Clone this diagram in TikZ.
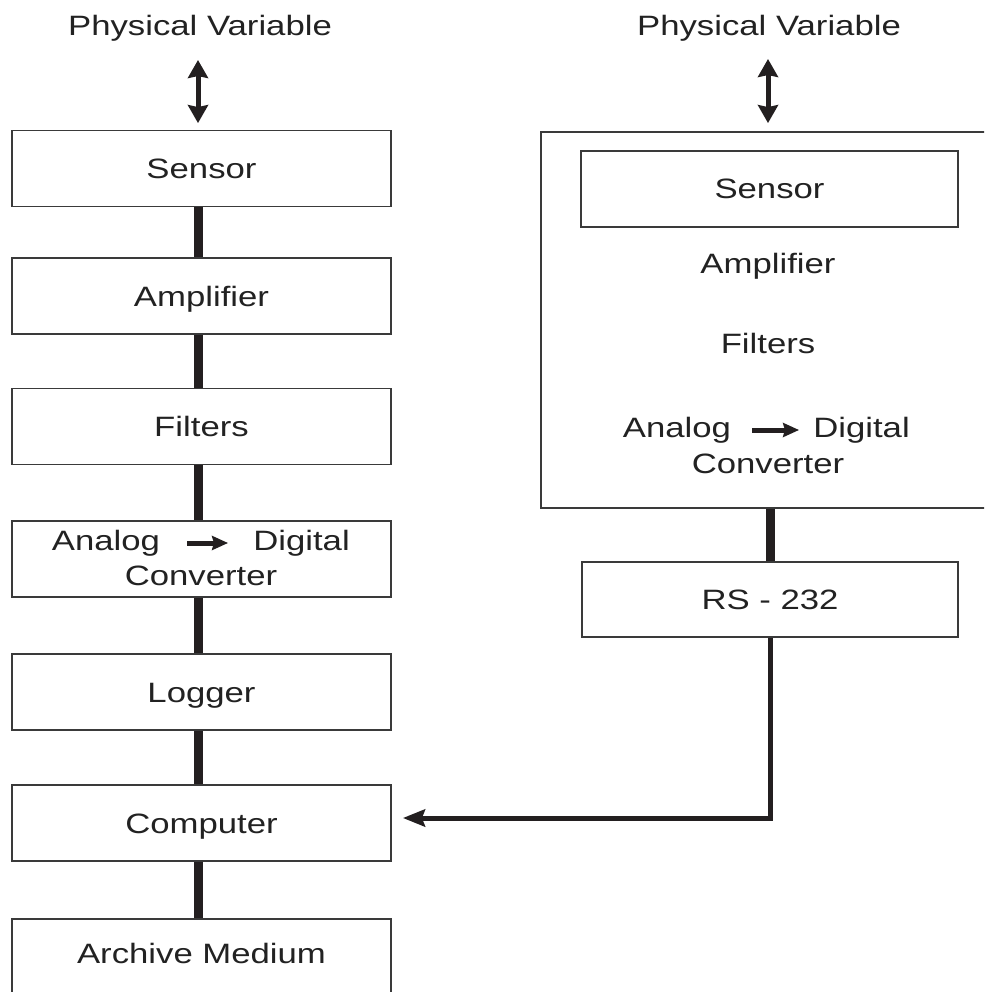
\documentclass[tikz,border=0pt]{standalone}
\usepackage{fontspec}
\setmainfont{Liberation Sans}[FakeStretch=1.24]
\usetikzlibrary{arrows.meta}
\definecolor{ink}{HTML}{231F20}
\definecolor{edge}{HTML}{3A3A3A}
\definecolor{txt}{HTML}{222222}
\begin{document}
\begin{tikzpicture}[x=1pt,y=-1pt,
  font=\fontsize{28}{34}\selectfont,
  box/.style={draw=edge, line width=1.8pt, minimum width=379pt, minimum height=76pt,
    inner sep=0pt, text height=20pt, text depth=0pt, text=txt},
  lbl/.style={inner sep=0pt, text height=20pt, text depth=0pt, text=txt},
  btxt/.style={inner sep=0pt, text=txt, anchor=base},
  conn/.style={draw=ink, line width=9pt},
  dbl/.style={draw=ink, line width=5pt,
    {Stealth[length=18pt,width=20pt,inset=2pt]}-{Stealth[length=18pt,width=20pt,inset=2pt]}},
  feed/.style={draw=ink, line width=5pt, line join=miter,
    -{Stealth[length=22pt,width=17pt,inset=3pt]}},
  tarr/.style={draw=ink, line width=5pt, -{Stealth[length=16pt,width=14pt,inset=2pt]}}
]
\useasboundingbox (0,0) rectangle (984,992);
\fill[white] (0,0) rectangle (984,992);
\clip (0,0) rectangle (984,992);

% ---- left column ----
\node[lbl] (lpv) at (200,26) {Physical Variable};
\node[box] (lsens) at (201.5,168.5) {Sensor};
\node[box] (lamp)  at (201.5,296)   {Amplifier};
\node[box] (lfilt) at (201.5,426.5) {Filters};
\node[box] (ladc)  at (201.5,559)   {};
\node[btxt] (ladcA) at (106,550) {Analog};
\node[btxt] (ladcD) at (301.5,550) {Digital};
\node[btxt] (ladcC) at (201,585) {Converter};
\node[box] (llog)  at (201.5,692)   {Logger};
\node[box] (lcomp) at (201.5,823)   {Computer};
\node[box] (larch) at (201.5,957) {};
\node[lbl] (larchT) at (201.5,953) {Archive Medium};

\coordinate (la) at (198,60);
\draw[dbl, shorten >=6.5pt] (la) -- (la |- lsens.north);

\draw[tarr] ([shift={(27pt,7pt)}]ladcA.base east) -- ([shift={(-25pt,7pt)}]ladcD.base west);

\draw[conn] ([xshift=-3pt]lsens.south) -- ([xshift=-3pt]lamp.north);
\draw[conn] ([xshift=-3pt]lamp.south) -- ([xshift=-3pt]lfilt.north);
\draw[conn] ([xshift=-3pt]lfilt.south) -- ([xshift=-3pt]ladc.north);
\draw[conn] ([xshift=-3pt]ladc.south) -- ([xshift=-3pt]llog.north);
\draw[conn] ([xshift=-3pt]llog.south) -- ([xshift=-3pt]lcomp.north);
\draw[conn] ([xshift=-3pt]lcomp.south) -- ([xshift=-3pt]larch.north);

% ---- right column ----
\node[lbl] (rpv) at (769,26) {Physical Variable};
\node[draw=edge, line width=1.8pt, minimum width=455pt, minimum height=376pt, inner sep=0pt] (rbig) at (768.5,320) {};
\node[box, minimum width=377pt] (rsens) at (769.5,189) {Sensor};
\node[lbl] (ramp) at (768,263.5) {Amplifier};
\node[lbl] (rfilt) at (768,343.5) {Filters};
\node[btxt] (radcA) at (677,437) {Analog};
\node[btxt] (radcD) at (861.5,437) {Digital};
\node[btxt] (radcC) at (768,473) {Converter};
\draw[tarr] ([shift={(21pt,7pt)}]radcA.base east) -- ([shift={(-14pt,7pt)}]radcD.base west);

\coordinate (ra) at (768,59);
\draw[dbl, shorten >=8pt] (ra) -- (ra |- rbig.north);

\node[box, minimum width=376pt, minimum height=75pt] (rs232) at (770,599.5) {RS - 232};
\draw[conn] ([xshift=0.5pt]rs232.north) -- ([xshift=0.5pt]rs232.north |- rbig.south);

\draw[feed, shorten >=11pt] (rs232.south) |- ([yshift=5pt]lcomp.east);
\end{tikzpicture}
\end{document}
